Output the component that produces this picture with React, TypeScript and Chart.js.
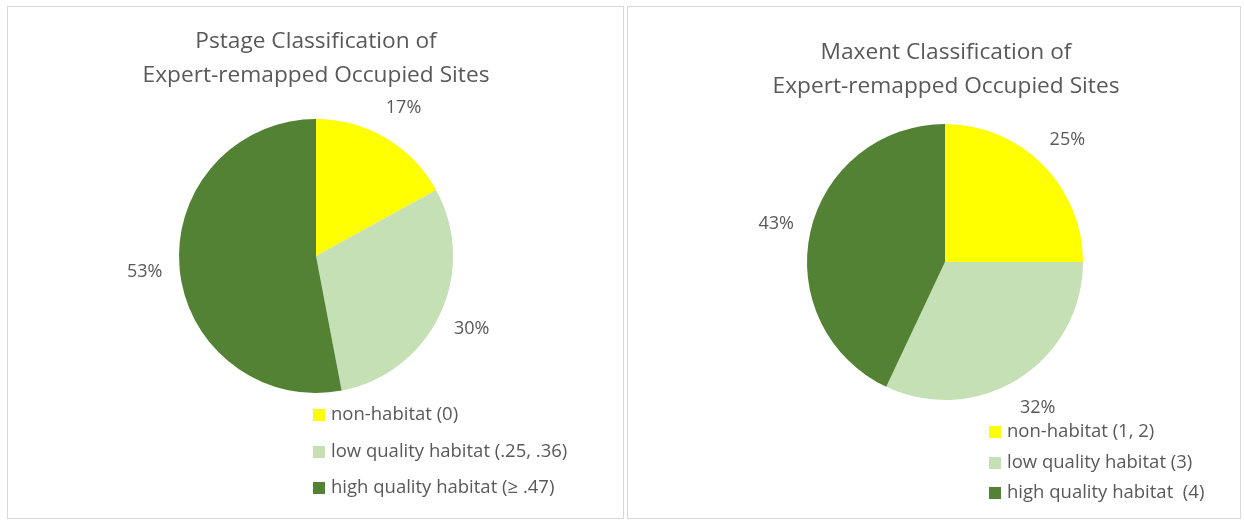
import React, { useEffect, useRef } from "react";
import Chart from "chart.js/auto";

const categoriesPstage = ["non-habitat (0)", "low quality habitat (.25, .36)", "high quality habitat (\u2265 .47)"];
const valuesPstage = [17, 30, 53];
const categoriesMaxent = ["non-habitat (1, 2)", "low quality habitat (3)", "high quality habitat  (4)"];
const valuesMaxent = [25, 32, 43];
const titlePstage = ["Pstage Classification of", "Expert-remapped Occupied Sites"];
const titleMaxent = ["Maxent Classification of", "Expert-remapped Occupied Sites"];
const sliceColors = ["#FFFF00", "#C5E0B4", "#548235"];

const TEXT = "#595959";
const FONT = "'Open Sans', 'Liberation Sans', sans-serif";

type PanelCfg = {
  left: number;
  width: number;
  labels: string[];
  values: number[];
  title: string[];
  cx: number;
  cy: number;
  r: number;
  titleX: number;
  titleY: number[];
  legendX: number;
  legendY: number[];
};

function Panel({ cfg }: { cfg: PanelCfg }) {
  const ref = useRef<HTMLCanvasElement | null>(null);
  const W = cfg.width - 2;
  const H = 511;
  useEffect(() => {
    const canvas = ref.current!;
    const extras = {
      id: "extras",
      afterDatasetsDraw(chart: any) {
        const ctx = chart.ctx;
        ctx.save();
        ctx.fillStyle = TEXT;
        // title
        ctx.font = `22.7px ${FONT}`;
        ctx.textAlign = "center";
        ctx.textBaseline = "middle";
        cfg.title.forEach((t, i) => ctx.fillText(t, cfg.titleX, cfg.titleY[i]));
        // slice labels
        const meta = chart.getDatasetMeta(0);
        const data = chart.data.datasets[0].data as number[];
        ctx.font = `18px ${FONT}`;
        meta.data.forEach((arc: any, i: number) => {
          const p = arc.getProps(["x", "y", "startAngle", "endAngle", "outerRadius"], true);
          const mid = (p.startAngle + p.endAngle) / 2;
          const d = p.outerRadius + 35;
          ctx.fillText(`${data[i]}%`, p.x + Math.cos(mid) * d, p.y + Math.sin(mid) * d);
        });
        // legend
        ctx.textAlign = "left";
        ctx.font = `18.5px ${FONT}`;
        chart.data.labels.forEach((lab: string, i: number) => {
          const y = cfg.legendY[i];
          ctx.fillStyle = sliceColors[i];
          ctx.fillRect(cfg.legendX, y - 6, 12, 12);
          ctx.fillStyle = TEXT;
          ctx.fillText(lab, cfg.legendX + 18, y);
        });
        ctx.restore();
      },
    };
    const chart = new Chart(canvas, {
      type: "pie",
      data: {
        labels: cfg.labels,
        datasets: [
          {
            data: cfg.values,
            backgroundColor: sliceColors,
            borderWidth: 0,
          },
        ],
      },
      options: {
        responsive: false,
        animation: false,
        layout: {
          padding: {
            left: cfg.cx - cfg.r,
            right: W - (cfg.cx + cfg.r),
            top: cfg.cy - cfg.r,
            bottom: H - (cfg.cy + cfg.r),
          },
        },
        plugins: {
          legend: { display: false },
          title: { display: false },
          tooltip: { enabled: false },
        },
      },
      plugins: [extras],
    });
    return () => chart.destroy();
  }, []);
  return (
    <div
      style={{
        position: "absolute",
        left: cfg.left,
        top: 6,
        width: cfg.width - 2,
        height: H,
        border: "1px solid #D9D9D9",
        background: "#fff",
      }}
    >
      <canvas ref={ref} width={W} height={H} style={{ display: "block", width: W, height: H }} />
    </div>
  );
}

export default function App() {
  useEffect(() => {
    document.body.style.margin = "0";
  }, []);
  const p1: PanelCfg = {
    left: 7,
    width: 617,
    labels: categoriesPstage,
    values: valuesPstage,
    title: titlePstage,
    cx: 308,
    cy: 249,
    r: 137,
    titleX: 308,
    titleY: [35, 69],
    legendX: 305,
    legendY: [408, 445, 481],
  };
  const p2: PanelCfg = {
    left: 627,
    width: 614,
    labels: categoriesMaxent,
    values: valuesMaxent,
    title: titleMaxent,
    cx: 317,
    cy: 255,
    r: 138,
    titleX: 318,
    titleY: [46, 80],
    legendX: 361,
    legendY: [425, 456, 486],
  };
  return (
    <div style={{ position: "relative", width: 1244, height: 520, background: "#fff" }}>
      <Panel cfg={p1} />
      <Panel cfg={p2} />
    </div>
  );
}
